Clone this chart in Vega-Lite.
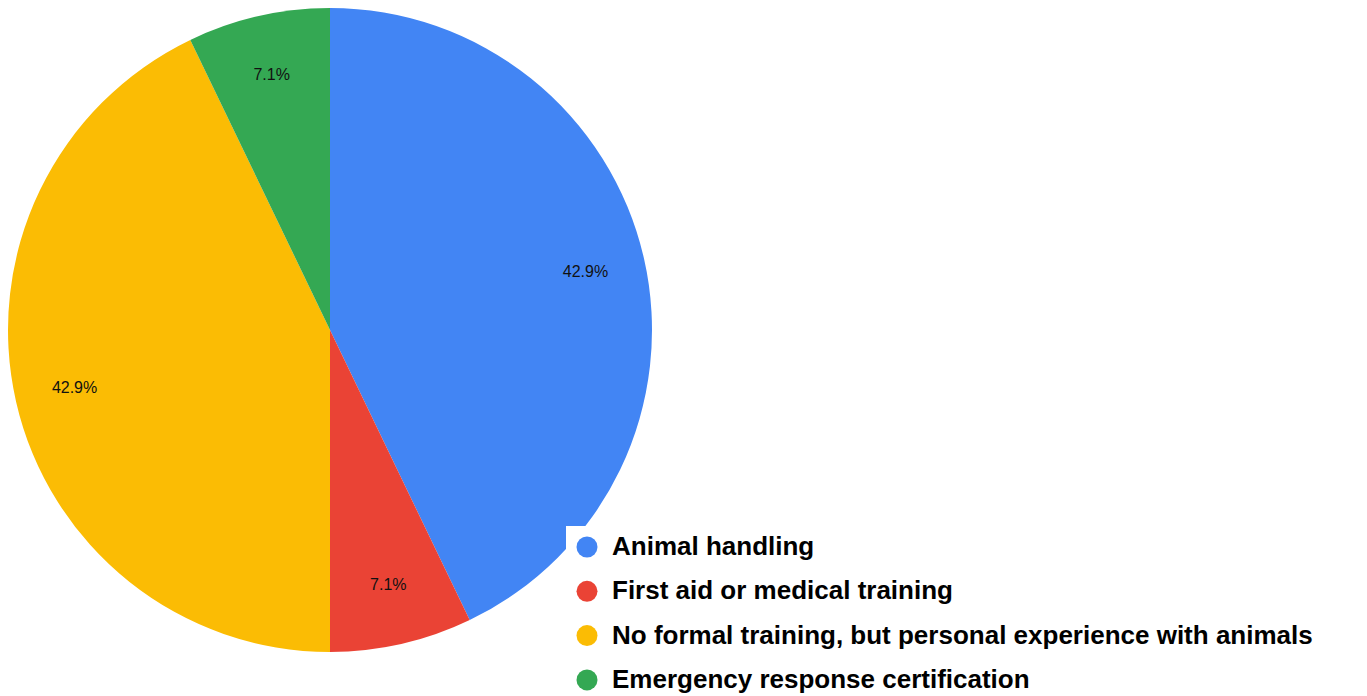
{
  "$schema": "https://vega.github.io/schema/vega-lite/v6.json",
  "width": 660,
  "height": 660,
  "padding": {"left": 0, "top": 0, "right": 0, "bottom": 0},
  "background": "white",
  "config": {"view": {"stroke": null}},
  "data": {
    "values": [
      {"idx": 1, "category": "Animal handling", "count": 6, "label": "42.9%"},
      {"idx": 2, "category": "First aid or medical training", "count": 1, "label": "7.1%"},
      {"idx": 3, "category": "No formal training, but personal experience with animals", "count": 6, "label": "42.9%"},
      {"idx": 4, "category": "Emergency response certification", "count": 1, "label": "7.1%"}
    ]
  },
  "encoding": {
    "theta": {"field": "count", "type": "quantitative", "stack": true},
    "order": {"field": "idx", "type": "quantitative"}
  },
  "layer": [
    {
      "mark": {"type": "arc", "outerRadius": 322},
      "encoding": {
        "color": {
          "field": "category",
          "type": "nominal",
          "scale": {
            "domain": ["Animal handling", "First aid or medical training", "No formal training, but personal experience with animals", "Emergency response certification"],
            "range": ["#4285F4", "#EA4335", "#FBBC04", "#34A853"]
          },
          "legend": {
            "title": null,
            "orient": "none",
            "legendX": 566,
            "legendY": 526,
            "fillColor": "white",
            "padding": 8,
            "symbolType": "circle",
            "symbolSize": 440,
            "symbolStrokeWidth": 0,
            "symbolOpacity": 1,
            "labelFont": "Liberation Sans",
            "labelFontSize": 26,
            "labelFontWeight": "bold",
            "labelColor": "#000000",
            "labelLimit": 1000,
            "labelOffset": 12,
            "rowPadding": 18.3
          }
        }
      }
    },
    {
      "mark": {"type": "text", "radius": 262, "font": "Liberation Sans", "fontSize": 16, "color": "#111111"},
      "encoding": {
        "text": {"field": "label", "type": "nominal"}
      }
    }
  ]
}
